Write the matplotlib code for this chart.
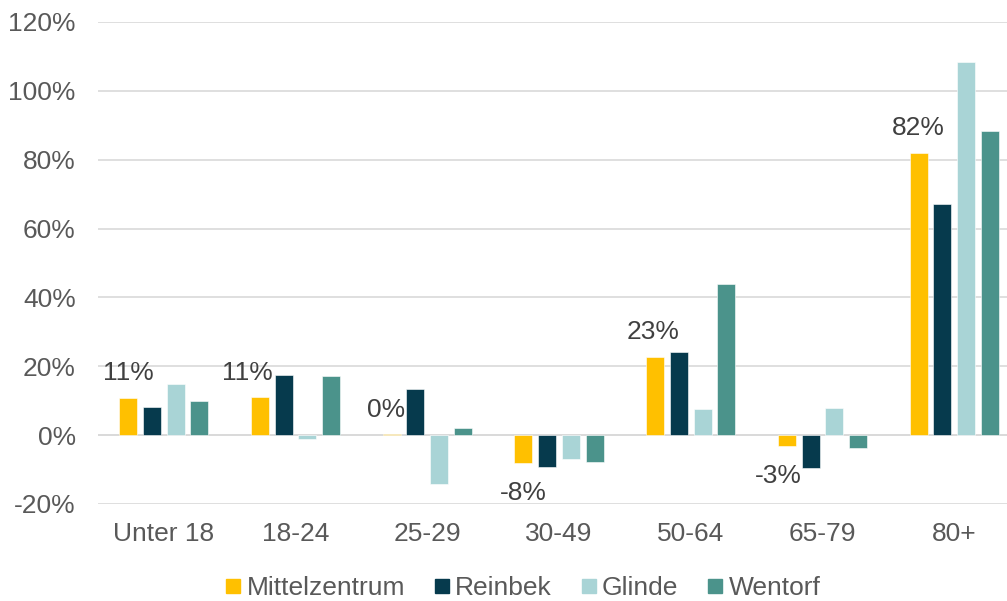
import numpy as np
import matplotlib.pyplot as plt
from matplotlib.lines import Line2D

plt.rcParams['font.family'] = ['Liberation Sans', 'DejaVu Sans']

categories = ['Unter 18', '18-24', '25-29', '30-49', '50-64', '65-79', '80+']
series = ['Mittelzentrum', 'Reinbek', 'Glinde', 'Wentorf']
mittelzentrum = [10.8, 11.0, 0.3, -8.1, 22.7, -3.2, 82.0]
reinbek = [8.1, 17.4, 13.4, -9.3, 24.1, -9.6, 67.2]
glinde = [14.8, -1.2, -14.2, -7.0, 7.6, 7.8, 108.4]
wentorf = [9.9, 17.2, 2.0, -7.8, 43.9, -3.8, 88.4]
colors = ['#FFC000', '#063A4D', '#A9D4D6', '#4B938B']

values = [mittelzentrum, reinbek, glinde, wentorf]
text_col = '#595959'
fs = 19

fig = plt.figure(figsize=(10.07, 6.01), dpi=100)
# plot area runs slightly past the right edge of the canvas
ax = fig.add_axes([0.0973, 0.1614, 0.9156, 0.802])

x = np.arange(len(categories))
width = 0.137
step = 0.18
for i, (vals, col) in enumerate(zip(values, colors)):
    ax.bar(x + (i - 1.5) * step, vals, width, color=col, zorder=3,
           edgecolor='white', linewidth=0.4)

# value labels on the Mittelzentrum series, nudged sideways where they crowd
nudge = [0, -9, -4, 0, -1.5, -6, 0]
for xi, v, dx in zip(x, mittelzentrum, nudge):
    xb = xi - 1.5 * step
    if v >= 0:
        ax.annotate(f'{v:.0f}%', (xb, v), xytext=(dx, 9), textcoords='offset points',
                    ha='center', va='bottom', fontsize=fs, color='#404040')
    else:
        ax.annotate(f'{v:.0f}%', (xb, v), xytext=(dx, -13), textcoords='offset points',
                    ha='center', va='top', fontsize=fs, color='#404040')

ax.set_ylim(-20, 120)
ax.set_xlim(-0.5, len(categories) - 0.5)
ax.set_yticks(np.arange(-20, 121, 20))
ax.set_yticklabels([f'{t}%' for t in range(-20, 121, 20)])
ax.set_xticks(x)
ax.set_xticklabels(categories)
ax.tick_params(axis='y', length=0, pad=16, labelsize=fs, labelcolor=text_col)
ax.tick_params(axis='x', length=0, pad=13, labelsize=fs, labelcolor=text_col)
ax.grid(axis='y', color='#D9D9D9', linewidth=1.2, zorder=0)
ax.axhline(0, color='#D9D9D9', linewidth=1.2, zorder=1)
for s in ax.spines.values():
    s.set_visible(False)

handles = [Line2D([], [], marker='s', linestyle='none', markersize=10,
                  markerfacecolor=c, markeredgecolor=c) for c in colors]
fig.legend(handles, series, loc='center', bbox_to_anchor=(0.518, 1 - 588 / 601),
           ncol=4, frameon=False, fontsize=fs, handletextpad=0.1,
           columnspacing=1.0, labelcolor=text_col, handlelength=0.8)

fig.savefig('out.png', dpi=100)
